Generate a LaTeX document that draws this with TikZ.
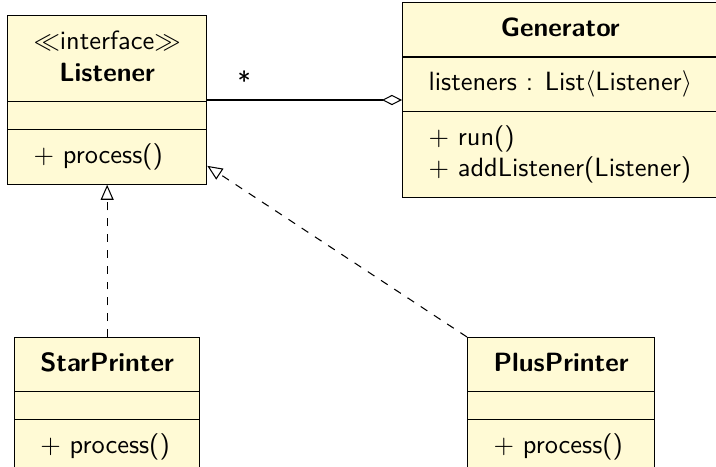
\documentclass[tikz,border=0pt]{standalone}
\usetikzlibrary{shapes.multipart,arrows.meta}
\renewcommand{\familydefault}{\sfdefault}
\definecolor{classfill}{RGB}{255,250,213}
\newcommand{\cstrut}{\rule[-2.5pt]{0pt}{10pt}}% same height for every line
\newcommand{\nofield}{\rule{0.1pt}{0pt}}% an empty compartment
\tikzset{%
  umlclass/.style={%
    rectangle split,
    rectangle split parts=3,
    rectangle split part align={center,left,left},
    draw,fill=classfill,
    inner xsep=9.85pt,inner ysep=5.1pt},
  realize/.style={dashed,-{Triangle[open,length=5.7pt,width=4.9pt]}},
  aggregate/.style={-{Diamond[open,length=7.6pt,width=3.9pt]}},
}

\begin{document}
\begin{tikzpicture}[x=0.3788pt,y=-0.3788pt]
  \useasboundingbox (0,0) rectangle (716,467);
  % the interface and the class that keeps its listeners
  \node [umlclass,align=center,anchor=west] (Listener) at (7,100)
    {\cstrut$\ll$interface$\gg$\\\cstrut\textbf{Listener}
     \nodepart{two}\nofield
     \nodepart{three}\cstrut$+$ process()};
  \node [umlclass,align=left,anchor=west] (Generator) at (402,100)
    {\cstrut\textbf{Generator}
     \nodepart{two}\cstrut listeners : List$\langle$Listener$\rangle$
     \nodepart{three}\cstrut$+$ run()\\\cstrut$+$ addListener(Listener)};
  % the two printers
  \node [umlclass,anchor=north] (StarPrinter) at (Listener.south |- 0,337)
    {\cstrut\textbf{StarPrinter}
     \nodepart{two}\nofield
     \nodepart{three}\cstrut$+$ process()};
  \node [umlclass,anchor=north west] (PlusPrinter) at (467,337)
    {\cstrut\textbf{PlusPrinter}
     \nodepart{two}\nofield
     \nodepart{three}\cstrut$+$ process()};
  \draw [aggregate] (Listener) -- (Generator) node [pos=0.19,above] {*};
  \draw [realize] (StarPrinter) -- (Listener);
  \draw [realize] (PlusPrinter.north west) -- (Listener);
\end{tikzpicture}
\end{document}
